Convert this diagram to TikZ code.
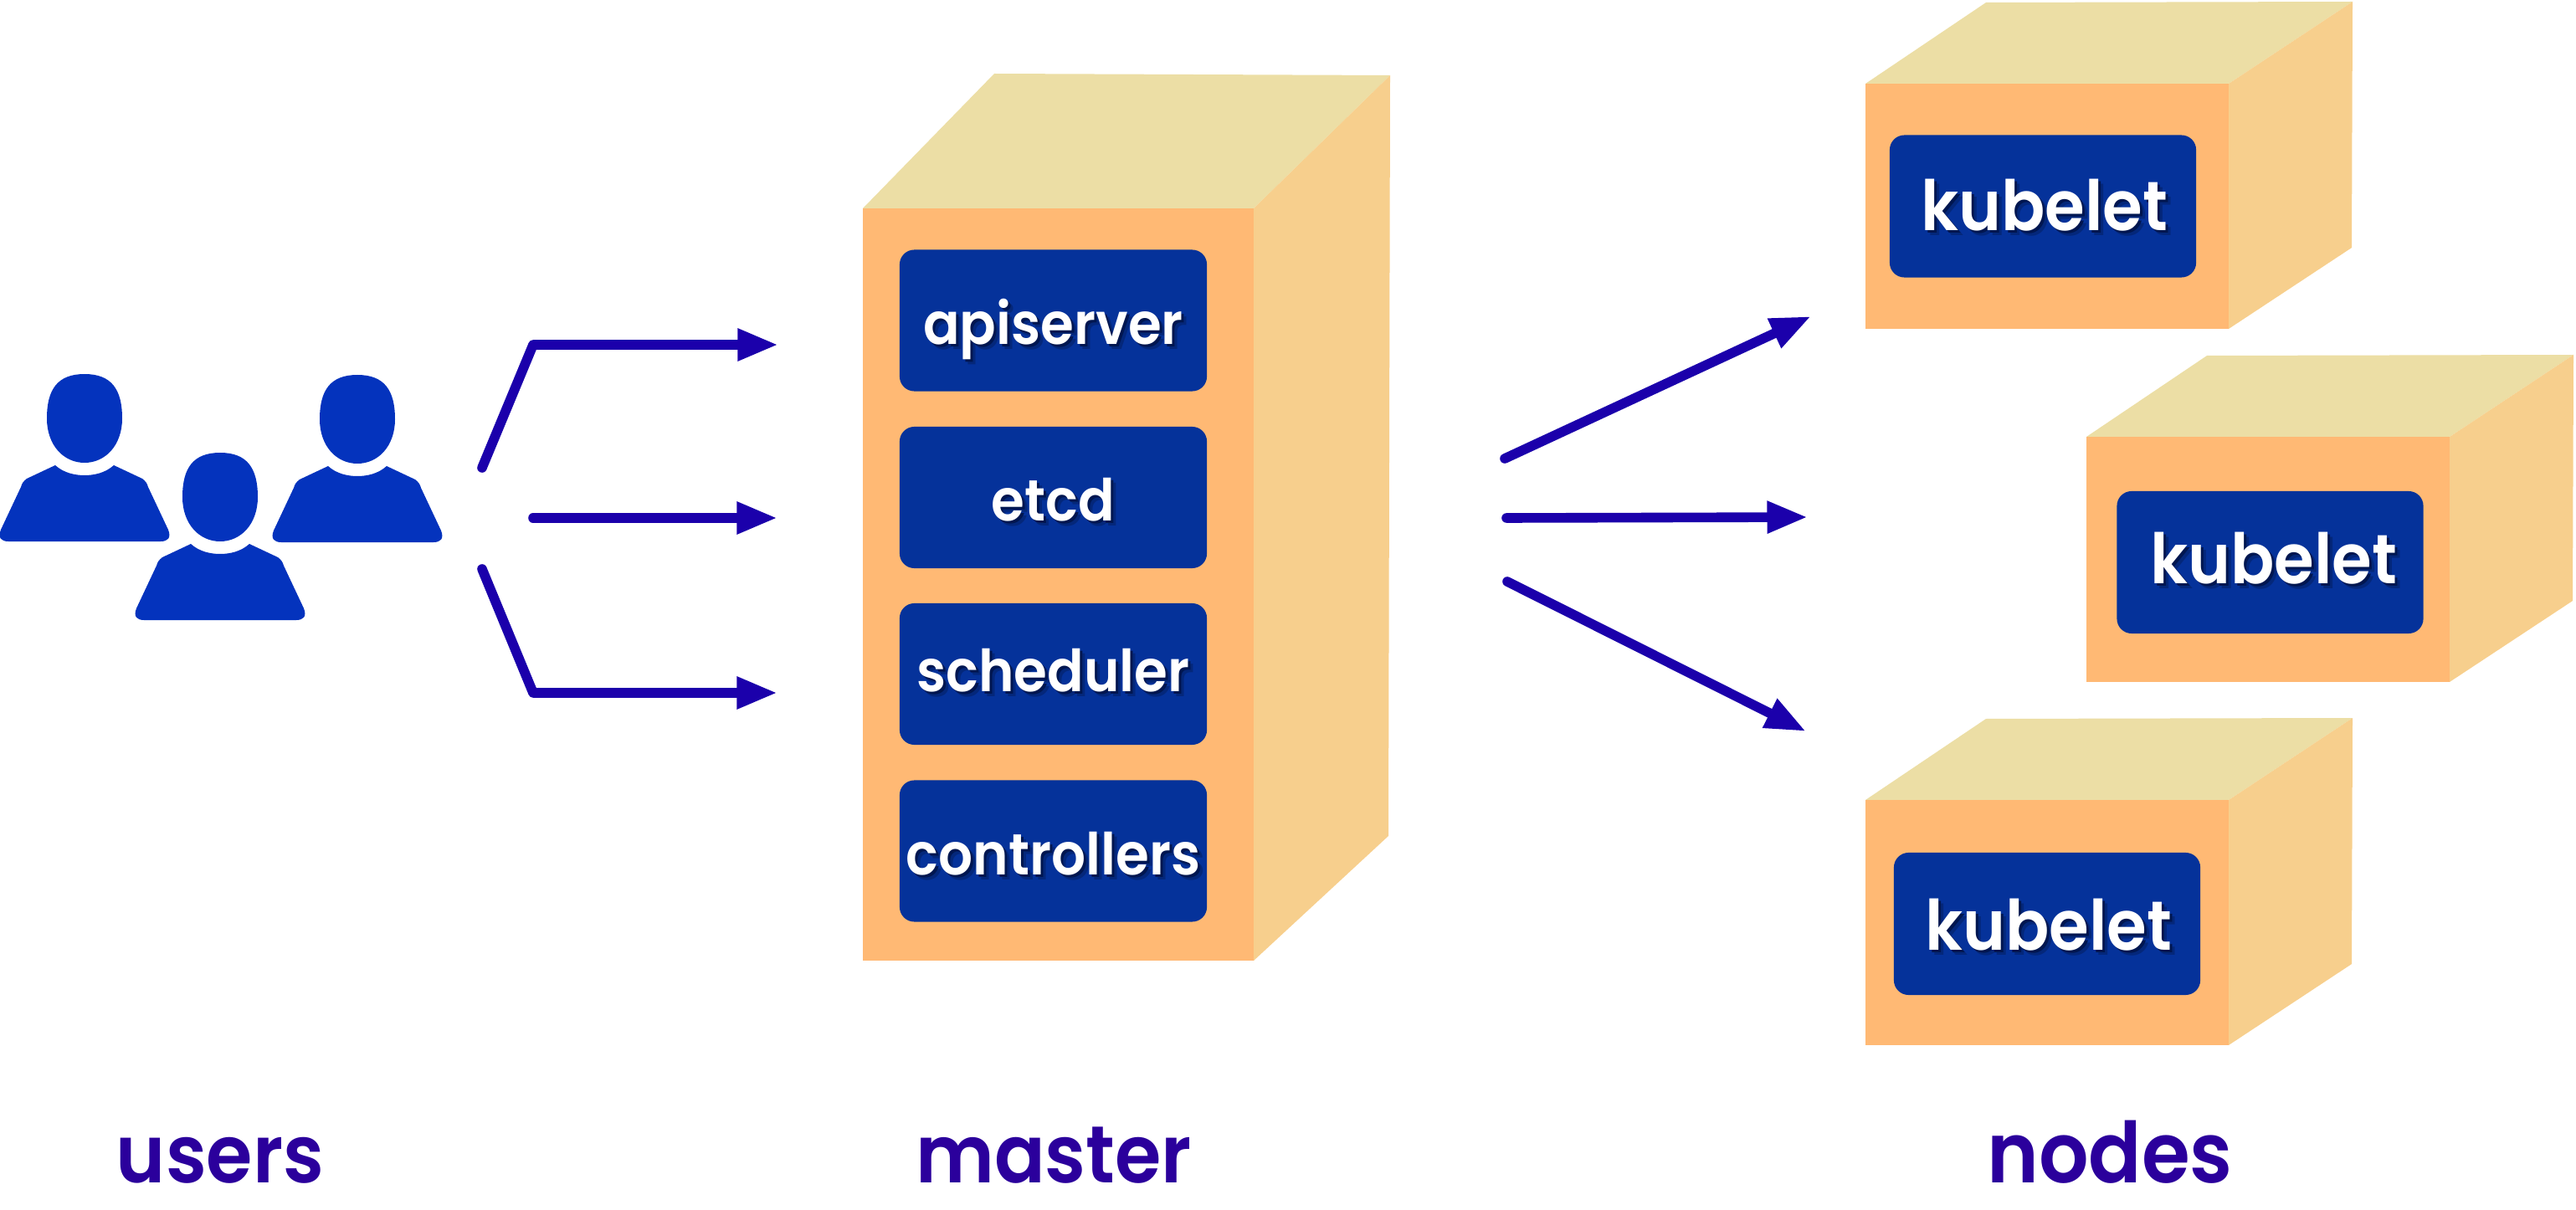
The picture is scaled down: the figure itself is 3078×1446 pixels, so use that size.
\documentclass[tikz,border=0pt]{standalone}
\usepackage{fontspec}
\setmainfont{Poppins SemiBold}[FakeStretch=0.93]
\usetikzlibrary{arrows.meta,positioning}

\definecolor{frontface}{HTML}{FFB974}
\definecolor{topface}{HTML}{ECDEA5}
\definecolor{sideface}{HTML}{F7CF8D}
\definecolor{panel}{HTML}{05329A}
\definecolor{people}{HTML}{0433BD}
\definecolor{flow}{HTML}{1B00AB}
\definecolor{caption}{HTML}{2B009C}
\definecolor{softshade}{HTML}{04277A}
\definecolor{darkshade}{HTML}{001650}

\newlength{\pxunit}
\setlength{\pxunit}{0.2845pt}
% white text over a two step drop shadow, #2 lowers it from the panel centre, #1 moves it right
\newcommand{\dropped}[3][0]{\hspace*{#1\pxunit}\hspace*{#1\pxunit}\raisebox{-#2\pxunit}{%
    \makebox[0pt][l]{\hspace{6\pxunit}\raisebox{-6\pxunit}{\textcolor{softshade}{#3}}}%
    \makebox[0pt][l]{\hspace{3\pxunit}\raisebox{-3\pxunit}{\textcolor{darkshade}{#3}}}%
    #3}}

\begin{document}
\begin{tikzpicture}[
    x=0.01cm, y=-0.01cm,
    panelbox/.style={rounded corners=5pt, fill=panel, text=white, inner sep=0pt,
        text height=0pt, text depth=0pt},
    masterbox/.style={panelbox, minimum width=367\pxunit, minimum height=169\pxunit,
        font=\fontsize{19.7pt}{22pt}\selectfont},
    nodebox/.style={panelbox, minimum width=366\pxunit, minimum height=170\pxunit,
        font=\fontsize{23.6pt}{25pt}\selectfont},
    tag/.style={text=caption, inner sep=0pt, anchor=base,
        font=\fontsize{27.4pt}{30pt}\selectfont},
    flowline/.style={draw=flow, line width=3.3pt, line cap=round, line join=round,
        -{Triangle[length=13.8pt,width=10.2pt]}},
    person/.pic={
        \fill[people] (0,0) .. controls (32,0) and (45,18) .. (45,53)
            .. controls (45,85) and (25,106) .. (0,106)
            .. controls (-25,106) and (-45,85) .. (-45,53)
            .. controls (-45,18) and (-32,0) .. (0,0) -- cycle;
        \fill[people] (-35,109) .. controls (-25,118) and (-12,121) .. (0,121)
            .. controls (12,121) and (25,118) .. (35,109) -- (69,125)
            .. controls (73,128) and (75,131) .. (76,135) -- (100,186)
            .. controls (104,196) and (99,200) .. (91,200) -- (-91,200)
            .. controls (-99,200) and (-104,196) .. (-100,186) -- (-76,135)
            .. controls (-75,131) and (-73,128) .. (-69,125) -- cycle;
    }
]
    \useasboundingbox (0,0) rectangle (3078,1446);

    % users
    \pic (user1) at (101,447) {person};
    \pic (user3) at (427,448) {person};
    \pic (user2) at (263,541) {person};

    % master
    \fill[topface] (1031,249) -- (1188,88) -- (1661,90) -- (1498,249) -- cycle;
    \fill[sideface] (1498,249) -- (1661,90) -- (1659,999) -- (1498,1148) -- cycle;
    \fill[frontface] (1031,249) rectangle (1498,1148);

    \node[masterbox] (apiserver) at (1258.5,383) {\dropped{28}{apiserver}};
    \node[masterbox] (etcd) at (1258.5,594.5) {\dropped{27.5}{etcd}};
    \node[masterbox] (scheduler) at (1258.5,805.5) {\dropped{20.5}{scheduler}};
    \node[masterbox] (controllers) at (1258.5,1017) {\dropped{28}{controllers}};

    % worker boxes
    \foreach \cx/\cy in {2229/100, 2493/522, 2229/956} {
        \fill[topface] (\cx,\cy) -- ++(144,-97) -- ++(438,-1) -- ++(-148,98) -- cycle;
        \fill[sideface] (\cx+434,\cy) -- ++(148,-98) -- ++(-1,294) -- ++(-147,97) -- cycle;
        \fill[frontface] (\cx,\cy) rectangle ++(434,293);
    }

    \node[nodebox] (kubelet1) at (2441,246.5) {\dropped[2]{28.5}{kubelet}};
    \node[nodebox] (kubelet2) at (2712.5,672) {\dropped[4.5]{25}{kubelet}};
    \node[nodebox] (kubelet3) at (2446,1104) {\dropped[2]{31}{kubelet}};

    % captions
    \node[tag] (users) at (263,1413) {users};
    \node[tag] (master) at (1259,1413) {master};
    \node[tag, font=\fontsize{28.6pt}{30pt}\selectfont] (nodes) at (2521,1413) {nodes};

    % arrows from the users
    \coordinate (ua) at (576,559);
    \coordinate (ub) at (637,412);
    \coordinate (uc) at (930,412);
    \coordinate (ud) at (637,619);
    \coordinate (ue) at (929,619);
    \coordinate (uf) at (576,680);
    \coordinate (ug) at (637,828);
    \coordinate (uh) at (929,828);
    \draw[flowline] (ua) -- (ub) -- (uc);
    \draw[flowline] (ud) -- (ue);
    \draw[flowline] (uf) -- (ug) -- (uh);

    % arrows to the nodes
    \coordinate (na) at (1798,548);
    \coordinate (nb) at (2164,378);
    \coordinate (nc) at (1800,619);
    \coordinate (nd) at (2160,618);
    \coordinate (ne) at (1801,695);
    \coordinate (nf) at (2158,874);
    \draw[flowline] (na) -- (nb);
    \draw[flowline] (nc) -- (nd);
    \draw[flowline] (ne) -- (nf);
\end{tikzpicture}
\end{document}
